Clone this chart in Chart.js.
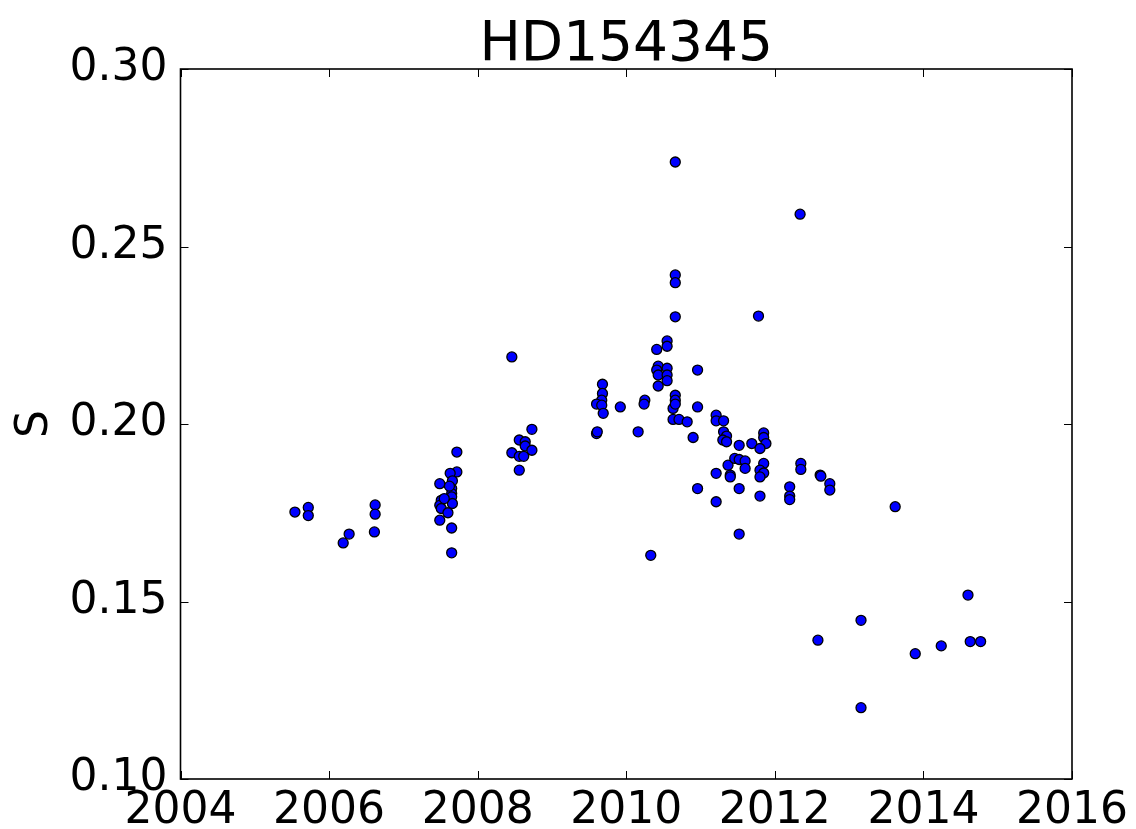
<!DOCTYPE html>
<html>
<head>
<meta charset="utf-8">
<script src="https://cdn.jsdelivr.net/npm/chart.js@4.4.1/dist/chart.umd.min.js"></script>
<style>
    html, body { margin: 0; padding: 0; background: #ffffff; }
    #wrap { width: 1136px; height: 829px; position: relative; }
</style>
</head>
<body>
<div id="wrap"><canvas id="sChart"></canvas></div>
<script>
const starName = 'HD154345';

// observation epochs (decimal year) and S index values
const years = [
    2005.54, 2005.72, 2005.72, 2006.19, 2006.27, 2006.62, 2006.62, 2006.61,
    2007.72, 2007.72, 2007.63, 2007.66, 2007.49, 2007.65, 2007.65, 2007.65,
    2007.51, 2007.49, 2007.66, 2007.51, 2007.60, 2007.49, 2007.65, 2007.65,
    2007.62, 2007.55,
    2008.46, 2008.73, 2008.56, 2008.64, 2008.64, 2008.46, 2008.73, 2008.56,
    2008.62, 2008.56,
    2009.68, 2009.68, 2009.67, 2009.60, 2009.67, 2009.69, 2009.60, 2009.61,
    2009.92, 2010.25, 2010.24, 2010.16, 2010.33, 2010.41, 2010.43, 2010.41,
    2010.43, 2010.43, 2010.55, 2010.55, 2010.55, 2010.55, 2010.55, 2010.66,
    2010.66, 2010.66, 2010.66, 2010.66, 2010.66, 2010.63, 2010.66, 2010.63,
    2010.71, 2010.82, 2010.90, 2010.96, 2010.96, 2010.96,
    2011.21, 2011.21, 2011.31, 2011.31, 2011.35, 2011.30, 2011.35, 2011.52,
    2011.69, 2011.21, 2011.21, 2011.37, 2011.40, 2011.40, 2011.46, 2011.52,
    2011.60, 2011.60, 2011.52, 2011.52, 2011.78, 2011.85, 2011.85, 2011.88,
    2011.80, 2011.85, 2011.80, 2011.85, 2011.80, 2011.80,
    2012.20, 2012.20, 2012.20, 2012.34, 2012.35, 2012.35, 2012.61, 2012.62,
    2012.74, 2012.74, 2012.58, 2013.16, 2013.16, 2013.62, 2013.89, 2014.24,
    2014.60, 2014.63, 2014.77
];
const sValues = [
    0.1752, 0.1765, 0.1742, 0.1665, 0.1690, 0.1772, 0.1746, 0.1696,
    0.1921, 0.1865, 0.1861, 0.1840, 0.1832, 0.1818, 0.1804, 0.1795,
    0.1785, 0.1771, 0.1776, 0.1762, 0.1750, 0.1729, 0.1707, 0.1637,
    0.1825, 0.1790,
    0.2189, 0.1985, 0.1955, 0.1950, 0.1938, 0.1919, 0.1926, 0.1909,
    0.1909, 0.1870,
    0.2112, 0.2086, 0.2067, 0.2056, 0.2053, 0.2030, 0.1973, 0.1978,
    0.2048, 0.2067, 0.2056, 0.1978, 0.1630, 0.2210, 0.2163, 0.2152,
    0.2138, 0.2107, 0.2234, 0.2219, 0.2157, 0.2138, 0.2122, 0.2738,
    0.2420, 0.2398, 0.2302, 0.2081, 0.2067, 0.2044, 0.2056, 0.2013,
    0.2013, 0.2006, 0.1962, 0.2152, 0.2048, 0.1818,
    0.2025, 0.2009, 0.2009, 0.1978, 0.1966, 0.1955, 0.1950, 0.1940,
    0.1945, 0.1861, 0.1781, 0.1884, 0.1856, 0.1851, 0.1903, 0.1900,
    0.1896, 0.1875, 0.1818, 0.1690, 0.2304, 0.1975, 0.1962, 0.1945,
    0.1931, 0.1889, 0.1870, 0.1862, 0.1851, 0.1797,
    0.1823, 0.1797, 0.1787, 0.2591, 0.1889, 0.1872, 0.1856, 0.1853,
    0.1832, 0.1814, 0.1391, 0.1447, 0.1201, 0.1767, 0.1353, 0.1375,
    0.1518, 0.1387, 0.1387
];

const xTicks = [2004, 2006, 2008, 2010, 2012, 2014, 2016];
const yTicks = [0.10, 0.15, 0.20, 0.25, 0.30];

const FONT = 'DejaVu Sans';

// box around the plot with inward ticks on all four sides
const framePlugin = {
    id: 'frame',
    afterDatasetsDraw(chart) {
        const { ctx, chartArea: a, scales } = chart;
        ctx.save();
        ctx.strokeStyle = '#000000';
        ctx.lineWidth = 1;
        const len = 8;
        ctx.beginPath();
        xTicks.forEach(v => {
            const x = Math.round(scales.x.getPixelForValue(v)) + 0.5;
            ctx.moveTo(x, a.bottom); ctx.lineTo(x, a.bottom - len);
            ctx.moveTo(x, a.top); ctx.lineTo(x, a.top + len);
        });
        yTicks.forEach(v => {
            const y = Math.round(scales.y.getPixelForValue(v)) + 0.5;
            ctx.moveTo(a.left, y); ctx.lineTo(a.left + len, y);
            ctx.moveTo(a.right, y); ctx.lineTo(a.right - len, y);
        });
        ctx.stroke();
        ctx.lineWidth = 1.6;
        ctx.strokeRect(a.left, a.top, a.right - a.left, a.bottom - a.top);
        ctx.restore();
    },
    afterDraw(chart) {
        const { ctx, chartArea: a } = chart;
        ctx.save();
        ctx.fillStyle = '#000000';
        ctx.font = `55px "${FONT}"`;
        ctx.textAlign = 'center';
        ctx.textBaseline = 'alphabetic';
        ctx.fillText(starName, (a.left + a.right) / 2, 60);
        ctx.restore();
    }
};

new Chart(document.getElementById('sChart'), {
    type: 'scatter',
    data: {
        datasets: [{
            data: years.map((t, i) => ({ x: t, y: sValues[i] })),
            backgroundColor: '#0000ff',
            borderColor: '#000000',
            borderWidth: 1.3,
            pointRadius: 5
        }]
    },
    options: {
        responsive: true,
        maintainAspectRatio: false,
        animation: false,
        events: [],
        layout: { padding: { top: 69, right: 64, bottom: 0, left: 0 } },
        plugins: {
            legend: { display: false },
            tooltip: { enabled: false }
        },
        scales: {
            x: {
                type: 'linear',
                min: 2004,
                max: 2016,
                afterBuildTicks: (s) => { s.ticks = xTicks.map(v => ({ value: v })); },
                afterFit: (s) => { s.height = 50; },
                grid: { display: false, drawTicks: false },
                border: { display: false },
                ticks: {
                    padding: 6,
                    color: '#000000',
                    font: { family: FONT, size: 44 },
                    callback: (v) => String(v)
                }
            },
            y: {
                min: 0.10,
                max: 0.30,
                afterBuildTicks: (s) => { s.ticks = yTicks.map(v => ({ value: v })); },
                afterFit: (s) => { s.width = 180.5; },
                grid: { display: false, drawTicks: false },
                border: { display: false },
                title: {
                    display: true,
                    text: 'S',
                    color: '#000000',
                    font: { family: FONT, size: 44 },
                    padding: { top: 9, bottom: 0 }
                },
                ticks: {
                    padding: 13,
                    color: '#000000',
                    font: { family: FONT, size: 44 },
                    callback: (v) => Number(v).toFixed(2)
                }
            }
        }
    },
    plugins: [framePlugin]
});
</script>
</body>
</html>
